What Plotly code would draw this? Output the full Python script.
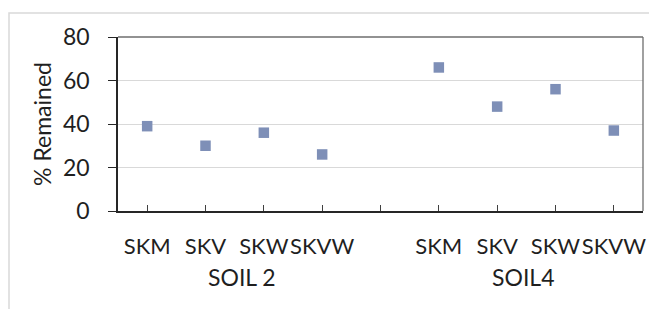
import plotly.graph_objects as go

# Data
categories = ["SKM", "SKV", "SKW", "SKVW", "", "SKM", "SKV", "SKW", "SKVW"]
positions = [0, 1, 2, 3, 5, 6, 7, 8]
values = [39, 30, 36, 26, 66, 48, 56, 37]
groups = ["SOIL 2", "SOIL4"]
group_pos = [1.63, 6.44]
y_ticks = [0, 20, 40, 60, 80]

FONT = "Lato"
TXT = "#1f1f1f"
FS = 23

# page body has an 8px default margin; figure sized to fit the window
OFF = 8
W, H = 657 - OFF, 309 - OFF
L, R, T, B = 118 - OFF, 14, 37 - OFF, 98
pw, ph = W - L - R, H - T - B


def px_x(x):  # page pixel -> paper
    return (x - OFF - L) / pw


def px_y(y):
    return (H - B - (y - OFF)) / ph


fig = go.Figure()
fig.add_trace(go.Scatter(
    x=positions, y=values, mode="markers",
    marker=dict(symbol="square", size=10.5, color="#7E8FB7", line=dict(width=0)),
    showlegend=False, hoverinfo="skip",
))

shapes = [
    dict(type="rect", xref="paper", yref="paper",
         x0=px_x(9), x1=px_x(680), y0=px_y(340), y1=px_y(13),
         line=dict(color="#d9d9d9", width=1.5), layer="below"),
    dict(type="line", xref="paper", yref="paper", x0=0, x1=1, y0=1, y1=1,
         line=dict(color="#6e6e6e", width=1.3)),
    dict(type="line", xref="paper", yref="paper", x0=1, x1=1, y0=0, y1=1,
         line=dict(color="#6e6e6e", width=1.3)),
]

annotations = [
    dict(x=gx, y=px_y(277), xref="x", yref="paper", text=g, showarrow=False,
         font=dict(family=FONT, size=FS, color=TXT), xanchor="center", yanchor="middle")
    for g, gx in zip(groups, group_pos)
]

fig.update_layout(
    width=W, height=H,
    margin=dict(l=L, r=R, t=T, b=B),
    paper_bgcolor="white", plot_bgcolor="white",
    font=dict(family=FONT, size=FS, color=TXT),
    shapes=shapes, annotations=annotations,
    xaxis=dict(
        range=[-0.5, 8.5], tickmode="array",
        tickvals=list(range(len(categories))), ticktext=categories,
        tickangle=0,
        ticks="inside", ticklen=6, tickcolor="#404040", tickwidth=1,
        showline=True, linecolor="#262626", linewidth=1.5,
        showgrid=False, zeroline=False, ticklabelstandoff=15,
        tickfont=dict(family=FONT, size=22, color=TXT),
    ),
    yaxis=dict(
        range=[0, 80], tickmode="array", tickvals=y_ticks,
        ticks="outside", ticklen=8, tickcolor="#262626", tickwidth=1,
        showline=True, linecolor="#262626", linewidth=1.5,
        showgrid=True, gridcolor="#d9d9d9", gridwidth=1, zeroline=False,
        ticklabelstandoff=14,
        tickfont=dict(family=FONT, size=FS, color=TXT),
        title=dict(text="% Remained", standoff=5,
                   font=dict(family=FONT, size=FS, color=TXT)),
    ),
)

fig.write_html("out.html")
